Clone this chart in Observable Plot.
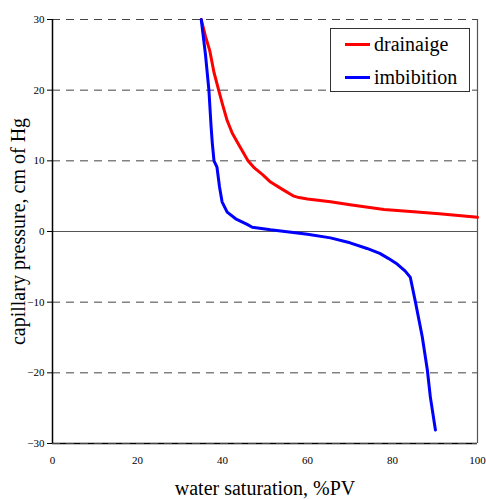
<!DOCTYPE html>
<html>
<head>
<meta charset="utf-8">
<script src="https://cdn.jsdelivr.net/npm/d3@7"></script>
<script src="https://cdn.jsdelivr.net/npm/@observablehq/plot@0.6"></script>
<style>
  html, body { margin: 0; padding: 0; background: #fff; }
  #wrap { position: relative; width: 486px; height: 500px; font-family: "Liberation Serif", "Times New Roman", serif; }
  #wrap svg, #wrap svg text, #wrap svg g { font-family: "Liberation Serif", "Times New Roman", serif !important; }
  #legend { position: absolute; left: 330px; top: 28px; width: 140px; height: 64px; border: 1px solid #333; background: #fff; box-sizing: border-box; }
  .item { position: absolute; left: 14px; display: flex; align-items: center; font-size: 20px; color: #000; }
  .sw { width: 25px; height: 3px; margin-right: 4px; }
</style>
</head>
<body>
<div id="wrap"></div>
<script>
const seriesNames = ["drainaige", "imbibition"];
const seriesColors = ["#ff0000", "#0000ff"];

const drainSw = [35, 36, 37, 38, 39.1, 40, 41.1, 42.3, 44.1, 46, 47.5, 49.5, 51.3, 54, 56.8, 58, 60, 65.4, 70, 78, 85, 91, 100];
const drainPc = [30, 27.6, 25.6, 22.5, 20, 18, 15.7, 13.9, 12, 10, 9, 8, 7, 6, 5, 4.8, 4.6, 4.2, 3.8, 3.1, 2.8, 2.5, 2.0];

const imbSw = [35, 36, 36.8, 37.3, 37.6, 38, 38.7, 39.3, 39.9, 41.1, 43.1, 45.8, 47, 51.3, 57.6, 60, 65.4, 70, 74, 77, 79, 81.1, 83, 84.2, 85.4, 87, 88.2, 88.9, 90.1];
const imbPc = [30, 25, 20, 15, 12.5, 10, 9.1, 6.3, 4.2, 2.75, 1.8, 1.0, 0.6, 0.24, -0.2, -0.4, -0.9, -1.6, -2.4, -3.1, -3.8, -4.6, -5.6, -6.5, -10, -14.9, -19.6, -23.4, -28.1];

const xTicks = [0, 20, 40, 60, 80, 100];
const yTicks = [-30, -20, -10, 0, 10, 20, 30];
const dashedLevels = [-30, -20, -10, 10, 20, 30];

const xTitle = "water saturation, %PV";
const yTitle = "capillary pressure, cm of Hg";

const drain = drainSw.map((s, i) => ({sw: s, pc: drainPc[i]}));
const imb = imbSw.map((s, i) => ({sw: s, pc: imbPc[i]}));

const serif = "Liberation Serif, Times New Roman, serif";

const chart = Plot.plot({
  width: 486,
  height: 500,
  marginLeft: 52,
  marginRight: 9,
  marginTop: 19,
  marginBottom: 57,
  style: {fontFamily: serif, fontSize: "11px", background: "#fff", color: "#000"},
  x: {domain: [0, 100], ticks: xTicks},
  y: {domain: [-30, 30], ticks: yTicks},
  marks: [
    Plot.ruleY([-30], {stroke: "#000", strokeWidth: 1.5}),
    Plot.ruleY(dashedLevels, {stroke: "#444", strokeWidth: 1, strokeDasharray: "8,6"}),
    Plot.ruleY([0], {stroke: "#555", strokeWidth: 1.2}),
    Plot.ruleX([100], {stroke: "#555", strokeWidth: 1.2}),
    Plot.line(drain, {x: "sw", y: "pc", stroke: seriesColors[0], strokeWidth: 3}),
    Plot.line(imb, {x: "sw", y: "pc", stroke: seriesColors[1], strokeWidth: 3}),
    Plot.ruleX([0], {stroke: "#000", strokeWidth: 1.5}),
    Plot.axisY({ticks: yTicks, tickSize: 5, tickPadding: 3, label: null, fontSize: 11, fontFamily: serif}),
    Plot.axisX({ticks: xTicks, tickSize: 0, tickPadding: 13, label: null, fontSize: 11, fontFamily: serif}),
    Plot.text([xTitle], {frameAnchor: "bottom", dy: 45, fontSize: 20, fontFamily: serif, lineAnchor: "middle"}),
    Plot.text([yTitle], {frameAnchor: "left", rotate: -90, dx: -34, fontSize: 20, fontFamily: serif, textAnchor: "middle", lineAnchor: "middle"})
  ]
});

const wrap = document.getElementById("wrap");
wrap.appendChild(chart);
const lg = document.createElement("div");
lg.id = "legend";
seriesNames.forEach((n, i) => {
  const it = document.createElement("div");
  it.className = "item";
  it.style.top = (i === 0 ? 4 : 37) + "px";
  const sw = document.createElement("span");
  sw.className = "sw";
  sw.style.background = seriesColors[i];
  const t = document.createElement("span");
  t.textContent = n;
  it.appendChild(sw);
  it.appendChild(t);
  lg.appendChild(it);
});
wrap.appendChild(lg);
</script>
</body>
</html>
